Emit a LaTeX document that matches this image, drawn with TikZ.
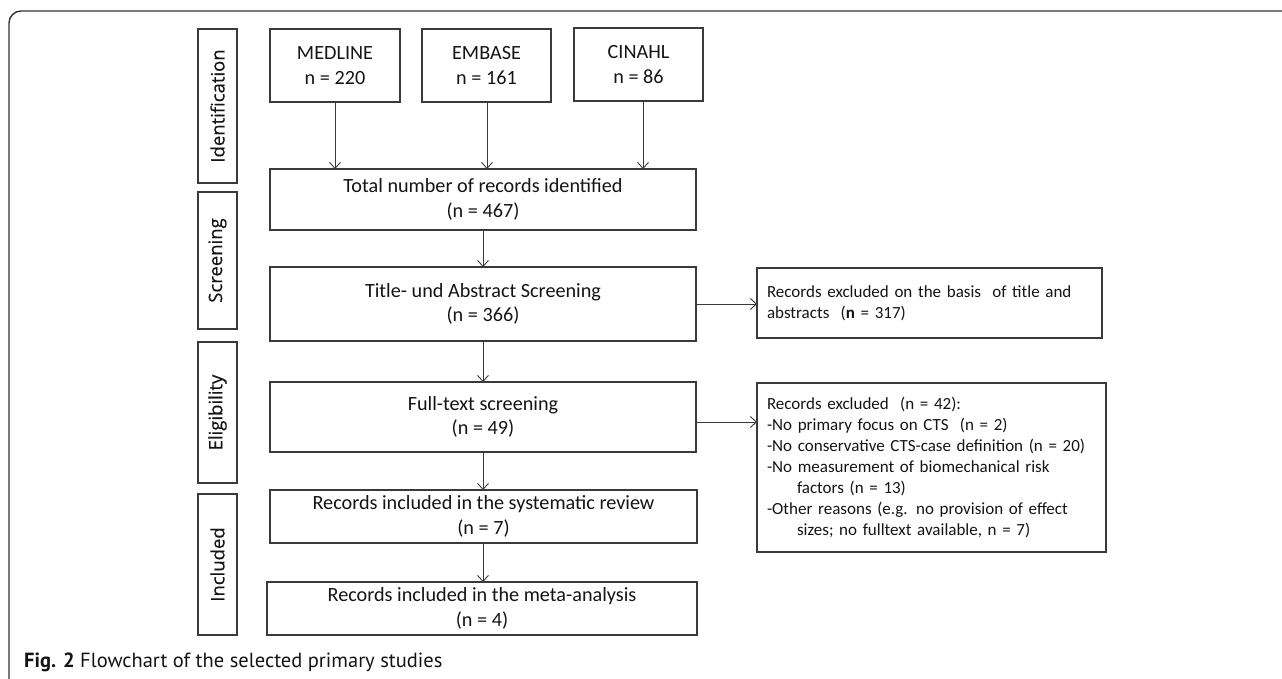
\documentclass[tikz,border=0pt]{standalone}
\usepackage{fontspec}
\usetikzlibrary{arrows.meta}
\newfontfamily\calfont{Carlito}
\newfontfamily\stagefont[FakeBold=0.4]{Open Sans}
\newfontfamily\capfont{PT Sans}
\definecolor{boxc}{HTML}{3A3A3A}
\definecolor{txtc}{HTML}{141414}
\definecolor{framec}{HTML}{333333}
\begin{document}
\begin{tikzpicture}[x=1pt,y=-1pt,
  box/.style={draw=boxc, line width=1.1pt, inner sep=0pt, outer sep=0pt, align=center, text=txtc,
    font=\calfont\fontsize{20.2}{24.5}\selectfont},
  exbox/.style={draw=boxc, line width=1.1pt, inner xsep=10pt, inner ysep=0pt, outer sep=0pt, align=left, text=txtc,
    font=\calfont\fontsize{17}{21}\selectfont},
  stagebox/.style={draw=boxc, line width=1.1pt, inner sep=0pt, outer sep=0pt, rotate=90, text=txtc,
    font=\stagefont\fontsize{18.5}{22}\selectfont},
  arr/.style={draw=boxc, line width=0.9pt, -{Straight Barb[length=6pt,width=11pt]}}]
\useasboundingbox (0,0) rectangle (1282,679);
% outer frame
\draw[framec, line width=1.4pt, rounded corners=12pt] (1300,11) -- (9,11) -- (9,700);
% stage labels
\node[stagebox, minimum width=154pt, minimum height=39pt] (sid) at (217.5,106) {Identification};
\node[stagebox, minimum width=137pt, minimum height=39pt] (sscr) at (217.5,260.5) {Screening};
\node[stagebox, minimum width=141pt, minimum height=39pt] (selig) at (217.5,412.5) {Eligibility};
\node[stagebox, minimum width=141pt, minimum height=39pt] (sinc) at (217.5,564.5) {Included};
% sources
\node[box, minimum width=130pt, minimum height=73pt] (med) at (335,65.5) {MEDLINE\\n = 220};
\node[box, minimum width=129pt, minimum height=73pt] (emb) at (486.5,65.5) {EMBASE\\n = 161};
\node[box, minimum width=129pt, minimum height=73pt] (cin) at (638.5,64.5) {CINAHL\\n = 86};
% main column
\node[box, minimum width=426pt, minimum height=61pt] (tot) at (483,199.5) {Total number of records identified\\(n = 467)};
\node[box, minimum width=426pt, minimum height=74pt] (tas) at (483,304) {Title- und Abstract Screening\\(n = 366)};
\node[box, minimum width=426pt, minimum height=70pt] (fts) at (483,417) {Full-text screening\\(n = 49)};
\node[box, minimum width=427pt, minimum height=53pt] (srv) at (483.5,516.5) {Records included in the systematic review\\(n = 7)};
\node[box, minimum width=430pt, minimum height=53pt] (meta) at (482,608.5) {Records included in the meta-analysis\\(n = 4)};
% exclusion boxes
\node[exbox, text width=325pt, minimum height=70pt] (ex1) at (929.5,303)
  {Records excluded on the basis\ \ of title and\\abstracts\ \ (\textbf{n} = 317)};
\node[exbox, text width=329pt, minimum height=169pt] (ex2) at (931.5,467.5)
  {Records excluded\ \ (n = 42):\\
   -No primary focus on CTS\ \ (n = 2)\\
   -No conservative CTS-case definition (n = 20)\\
   -No measurement of biomechanical risk\\
   \hspace*{30pt}factors (n = 13)\\
   -Other reasons (e.g. no provision of effect\\
   \hspace*{30pt}sizes; no fulltext available, n = 7)};
% connectors
\draw[arr] (med.south) -- (med.south |- tot.north);
\draw[arr] ([xshift=0.5pt]emb.south) -- ([xshift=0.5pt]emb.south |- tot.north);
\draw[arr] ([xshift=4.5pt]cin.south) -- ([xshift=4.5pt]cin.south |- tot.north);
\draw[arr] (tot.south) -- (tas.north);
\draw[arr] (tas.south) -- (fts.north);
\draw[arr] (fts.south) -- (fts.south |- srv.north);
\draw[arr] (srv.south -| fts.south) -- (fts.south |- meta.north);
\draw[arr] (tas.east) -- (tas.east -| ex1.west);
\draw[arr] ([yshift=-5pt]fts.east) -- ([yshift=-5pt]fts.east -| ex2.west);
% caption
\node[anchor=west, inner sep=0pt, text=txtc, font=\capfont\fontsize{20.5}{24}\selectfont] (cap) at (24,662)
  {\textbf{Fig. 2} Flowchart of the selected primary studies};
\end{tikzpicture}
\end{document}
